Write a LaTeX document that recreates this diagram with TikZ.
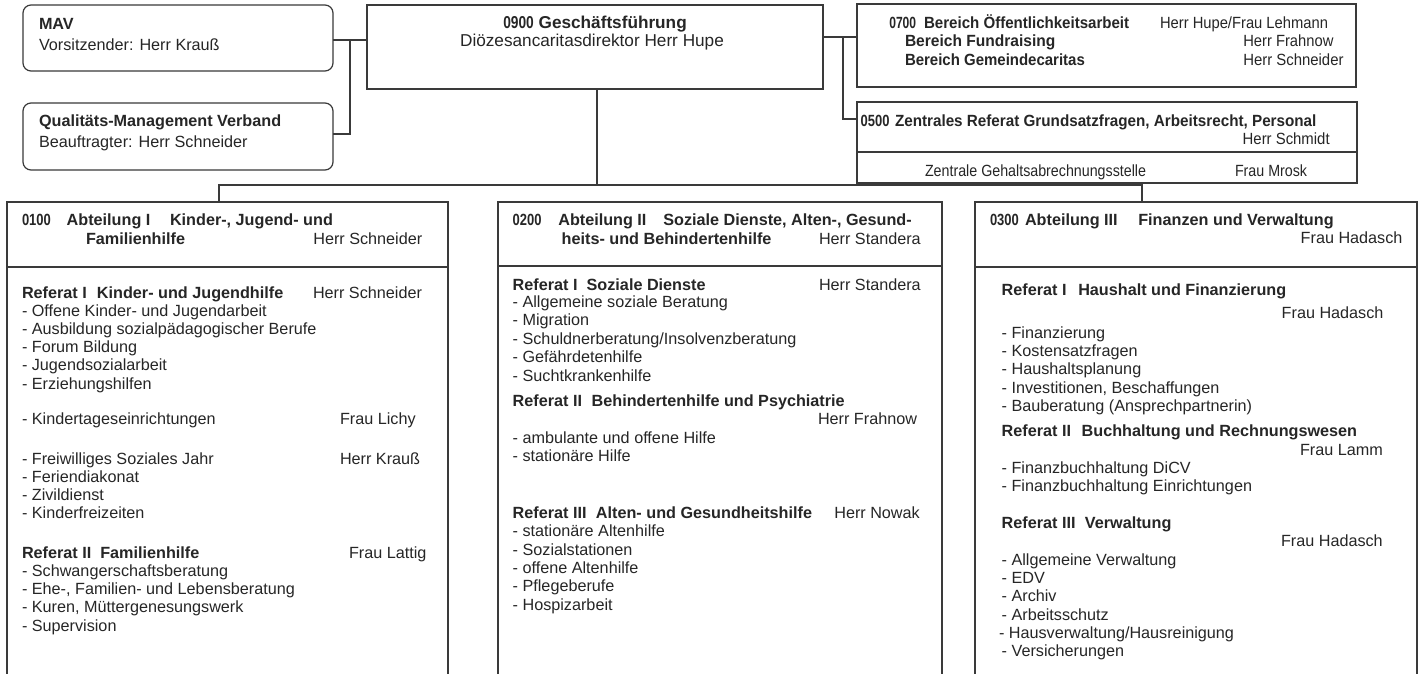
\documentclass[tikz,border=0pt]{standalone}
\usepackage{graphicx}
\usepackage{fontspec}
\setmainfont{Liberation Sans}
\definecolor{linec}{HTML}{3A3A3A}
\definecolor{txtc}{HTML}{262626}
\newcommand\fs{\fontsize{16.2}{18.3}\selectfont}
\newcommand\fsg{\fontsize{17.2}{19}\selectfont}
\newcommand\dg[1]{\scalebox{0.8}[1]{#1}}
\newcommand\cx[2]{\scalebox{#1}[1]{#2}}
\begin{document}
\begin{tikzpicture}[x=1pt,y=-1pt,
  boxst/.style={draw=linec, line width=1.2pt, anchor=north west, inner sep=0pt, outer sep=0pt, rectangle},
  rbox/.style={boxst, rounded corners=8pt},
  conn/.style={draw=linec, line width=1.2pt},
  tx/.style={anchor=base west, inner sep=0pt, outer sep=0pt, font=\fs, text=txtc},
  tb/.style={tx, font=\fs\bfseries},
  tc/.style={anchor=base, inner sep=0pt, outer sep=0pt, font=\fsg, text=txtc},
  tcb/.style={tc, font=\fsg\bfseries}]
\clip (0,0) rectangle (1421,674);
\fill[white] (0,0) rectangle (1421,674);
% boxes
\node[rbox, minimum width=310pt, minimum height=66pt] (mav) at (23,5) {};
\node[rbox, minimum width=310pt, minimum height=67pt] (qm) at (23,103) {};
\node[boxst, line width=2pt, minimum width=456pt, minimum height=84pt] (gf) at (367,5) {};
\node[boxst, minimum width=499pt, minimum height=83pt] (b700) at (857,4) {};
\node[boxst, minimum width=500pt, minimum height=50pt] (z500) at (857,102) {};
\node[boxst, minimum width=500pt, minimum height=31pt] (zgeh) at (857,152) {};
\node[boxst, minimum width=441pt, minimum height=65pt] (h1) at (7,202) {};
\node[boxst, minimum width=441pt, minimum height=440pt] (b1) at (7,267) {};
\node[boxst, minimum width=444pt, minimum height=64pt] (h2) at (498,202) {};
\node[boxst, minimum width=444pt, minimum height=440pt] (b2) at (498,266) {};
\node[boxst, minimum width=442pt, minimum height=65pt] (h3) at (975,202) {};
\node[boxst, minimum width=442pt, minimum height=440pt] (b3) at (975,267) {};
% connectors
\coordinate (lj) at (350,40);
\coordinate (lq) at (350,134);
\coordinate (rj) at (843,37);
\coordinate (rq) at (843,119);
\coordinate (busM) at (597,185);
\coordinate (busL) at (219,185);
\coordinate (busR) at (1142,185);
\draw[conn] (mav.east |- lj) -- (gf.west |- lj);
\draw[conn] (lj) -- (lq) -- (qm.east |- lq);
\draw[conn] (gf.east |- rj) -- (b700.west |- rj);
\draw[conn] (rj) -- (rq) -- (z500.west |- rq);
\draw[conn] (gf.south -| busM) -- (busM);
\draw[conn] (h1.north -| busL) -- (busL) -- (busR) -- (h3.north -| busR);
\draw[conn] (zgeh.south -| busR) -- (busR);
% top texts
\node[tb] (t1) at (39,30) {MAV};
\node[tx] (t2) at (39,50.5) {Vorsitzender: Herr Krauß};
\node[tb] (t3) at (39,126.7) {Qualitäts-Management Verband};
\node[tx] (t4) at (39,147.7) {Beauftragter: Herr Schneider};
\node[tcb] (t5) at (595,28.3) {\dg{0900} Geschäftsführung};
\node[tc] (t6) at (592,46.7) {Diözesancaritasdirektor Herr Hupe};
\node[tb] (t7) at (889.3,28.3) {\cx{0.93}{\makebox[37.4pt][l]{\dg{0700}}Bereich Öffentlichkeitsarbeit}};
\node[tx] (t8) at (1160,28.3) {\cx{0.91}{Herr Hupe/Frau Lehmann}};
\node[tb] (t9) at (905,47) {\cx{0.96}{Bereich Fundraising}};
\node[tx] (t10) at (1243.3,47) {\cx{0.91}{Herr Frahnow}};
\node[tb] (t11) at (905,65.7) {\cx{0.925}{Bereich Gemeindecaritas}};
\node[tx] (t12) at (1243.3,65.7) {\cx{0.92}{Herr Schneider}};
\node[tb] (t13) at (860.7,126.7) {\makebox[34.3pt][l]{\dg{0500}}\cx{0.94}{Zentrales Referat Grundsatzfragen, Arbeitsrecht, Personal}};
\node[tx] (t14) at (1242.7,145) {\cx{0.92}{Herr Schmidt}};
\node[tx] (t15) at (925,176) {\cx{0.88}{Zentrale Gehaltsabrechnungsstelle}};
\node[tx] (t16) at (1235,176) {\cx{0.88}{Frau Mrosk}};
% column 1
\node[tb] (c1a) at (22,225) {\makebox[44.7pt][l]{\dg{0100}}\makebox[103.3pt][l]{Abteilung I}Kinder-, Jugend- und};
\node[tb] (c1b) at (86,244) {Familienhilfe};
\node[tx] (c1c) at (313.3,244) {Herr Schneider};
\node[tb] (c1d) at (22,298) {\makebox[75pt][l]{Referat I}Kinder- und Jugendhilfe};
\node[tx] (c1e) at (313,298) {Herr Schneider};
\node[tx] (c1f) at (22,316) {- Offene Kinder- und Jugendarbeit};
\node[tx] (c1g) at (22,334.3) {- Ausbildung sozialpädagogischer Berufe};
\node[tx] (c1h) at (22,352.6) {- Forum Bildung};
\node[tx] (c1i) at (22,370.9) {- Jugendsozialarbeit};
\node[tx] (c1j) at (22,389.2) {- Erziehungshilfen};
\node[tx] (c1k) at (22,424) {- Kindertageseinrichtungen};
\node[tx] (c1l) at (340,424) {Frau Lichy};
\node[tx] (c1m) at (22,464) {- Freiwilliges Soziales Jahr};
\node[tx] (c1n) at (340,464) {Herr Krauß};
\node[tx] (c1o) at (22,482.3) {- Feriendiakonat};
\node[tx] (c1p) at (22,500.6) {- Zivildienst};
\node[tx] (c1q) at (22,518.9) {- Kinderfreizeiten};
\node[tb] (c1r) at (22,558) {\makebox[78.3pt][l]{Referat II}Familienhilfe};
\node[tx] (c1s) at (349,558) {Frau Lattig};
\node[tx] (c1t) at (22,576.3) {- Schwangerschaftsberatung};
\node[tx] (c1u) at (22,594.6) {- Ehe-, Familien- und Lebensberatung};
\node[tx] (c1v) at (22,612.9) {- Kuren, Müttergenesungswerk};
\node[tx] (c1w) at (22,631.2) {- Supervision};
% column 2
\node[tb] (c2a) at (512.7,225) {\makebox[45.6pt][l]{\dg{0200}}\makebox[105pt][l]{Abteilung II}Soziale Dienste, Alten-, Gesund-};
\node[tb] (c2b) at (561.7,244) {heits- und Behindertenhilfe};
\node[tx] (c2c) at (819,244) {Herr Standera};
\node[tb] (c2d) at (512.7,290.5) {\makebox[74pt][l]{Referat I}Soziale Dienste};
\node[tx] (c2e) at (819,290.5) {Herr Standera};
\node[tx] (c2f) at (512.7,307) {- Allgemeine soziale Beratung};
\node[tx] (c2g) at (512.7,325.5) {- Migration};
\node[tx] (c2h) at (512.7,344) {- Schuldnerberatung/Insolvenzberatung};
\node[tx] (c2i) at (512.7,362.5) {- Gefährdetenhilfe};
\node[tx] (c2j) at (512.7,381) {- Suchtkrankenhilfe};
\node[tb] (c2k) at (512.7,406) {\makebox[79pt][l]{Referat II}Behindertenhilfe und Psychiatrie};
\node[tx] (c2l) at (818,424.5) {Herr Frahnow};
\node[tx] (c2m) at (512.7,443.3) {- ambulante und offene Hilfe};
\node[tx] (c2n) at (512.7,461.6) {- stationäre Hilfe};
\node[tb] (c2o) at (512.7,518.3) {\makebox[83.3pt][l]{Referat III}Alten- und Gesundheitshilfe};
\node[tx] (c2p) at (834.3,518.3) {Herr Nowak};
\node[tx] (c2q) at (512.7,536.7) {- stationäre Altenhilfe};
\node[tx] (c2r) at (512.7,555) {- Sozialstationen};
\node[tx] (c2s) at (512.7,573.3) {- offene Altenhilfe};
\node[tx] (c2t) at (512.7,591.6) {- Pflegeberufe};
\node[tx] (c2u) at (512.7,610) {- Hospizarbeit};
% column 3
\node[tb] (c3a) at (990,225) {\makebox[35pt][l]{\dg{0300}}\makebox[113.3pt][l]{Abteilung III}Finanzen und Verwaltung};
\node[tx] (c3b) at (1300.7,243.3) {Frau Hadasch};
\node[tb] (c3c) at (1001.7,295) {\makebox[76.6pt][l]{Referat I}Haushalt und Finanzierung};
\node[tx] (c3d) at (1281.7,318.3) {Frau Hadasch};
\node[tx] (c3e) at (1001.7,338.3) {- Finanzierung};
\node[tx] (c3f) at (1001.7,356.6) {- Kostensatzfragen};
\node[tx] (c3g) at (1001.7,374.9) {- Haushaltsplanung};
\node[tx] (c3h) at (1001.7,393.2) {- Investitionen, Beschaffungen};
\node[tx] (c3i) at (1001.7,411.5) {- Bauberatung (Ansprechpartnerin)};
\node[tb] (c3j) at (1001.7,436.7) {\makebox[80pt][l]{Referat II}Buchhaltung und Rechnungswesen};
\node[tx] (c3k) at (1300,455) {Frau Lamm};
\node[tx] (c3l) at (1001.7,473.3) {- Finanzbuchhaltung DiCV};
\node[tx] (c3m) at (1001.7,491.6) {- Finanzbuchhaltung Einrichtungen};
\node[tb] (c3n) at (1001.7,528.3) {\makebox[83.3pt][l]{Referat III}Verwaltung};
\node[tx] (c3o) at (1281,546.7) {Frau Hadasch};
\node[tx] (c3p) at (1001.7,565) {- Allgemeine Verwaltung};
\node[tx] (c3q) at (1001.7,583.3) {- EDV};
\node[tx] (c3r) at (1001.7,601.6) {- Archiv};
\node[tx] (c3s) at (1001.7,620) {- Arbeitsschutz};
\node[tx] (c3t) at (999,638.3) {- Hausverwaltung/Hausreinigung};
\node[tx] (c3u) at (1001.7,656.6) {- Versicherungen};
\end{tikzpicture}
\end{document}
